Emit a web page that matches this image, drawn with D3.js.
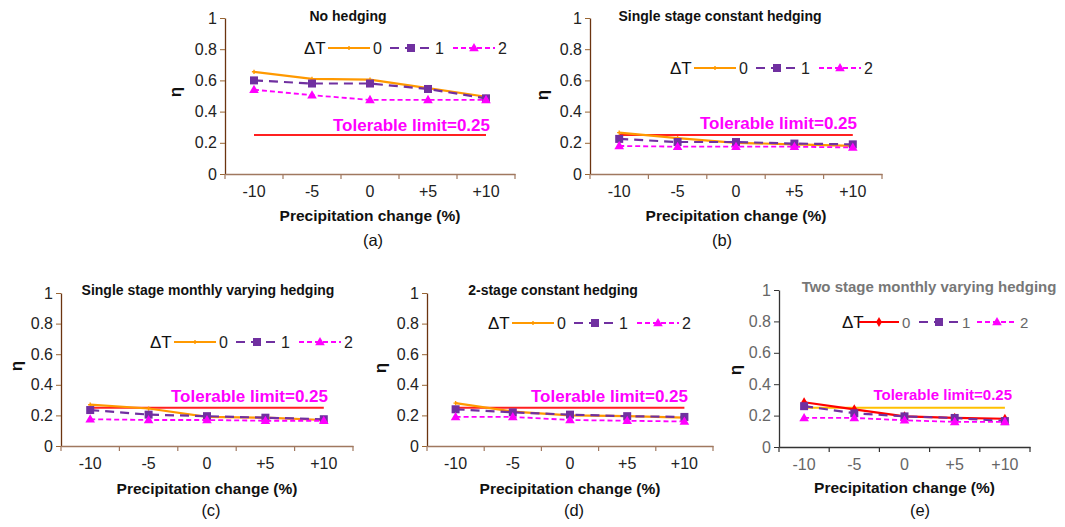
<!DOCTYPE html>
<html>
<head>
<meta charset="utf-8">
<script src="https://cdn.jsdelivr.net/npm/d3@7"></script>
<style>
  body { margin: 0; background: #fff; }
  svg { font-family: "Liberation Sans", Arial, sans-serif; }
</style>
</head>
<body>
<svg id="chart" width="1065" height="527"></svg>
<script>
// precipitation change categories (x) and temperature change series
const categories = ["-10", "-5", "0", "+5", "+10"];
const deltaT = ["0", "1", "2"];
const yTicks = [0, 0.2, 0.4, 0.6, 0.8, 1];
const tolerableLimit = 0.25;

const titles = [
    "No hedging",
    "Single stage constant hedging",
    "Single stage monthly varying hedging",
    "2-stage constant hedging",
    "Two stage monthly varying hedging"
];
const subLabels = ["(a)", "(b)", "(c)", "(d)", "(e)"];

// eta values, one row per ΔT (0, 1, 2)
const noHedging = [
    [0.655, 0.61, 0.605, 0.55, 0.495],
    [0.60, 0.58, 0.58, 0.545, 0.485],
    [0.54, 0.505, 0.475, 0.475, 0.475]
];
const singleConstant = [
    [0.265, 0.23, 0.20, 0.19, 0.18],
    [0.225, 0.205, 0.205, 0.195, 0.19],
    [0.18, 0.175, 0.175, 0.175, 0.17]
];
const singleMonthly = [
    [0.27, 0.245, 0.19, 0.185, 0.17],
    [0.235, 0.205, 0.195, 0.185, 0.175],
    [0.175, 0.17, 0.17, 0.165, 0.165]
];
const twoStageConstant = [
    [0.28, 0.225, 0.20, 0.195, 0.185],
    [0.24, 0.22, 0.205, 0.195, 0.19],
    [0.19, 0.19, 0.17, 0.165, 0.16]
];
const twoStageMonthly = [
    [0.285, 0.24, 0.195, 0.185, 0.18],
    [0.26, 0.215, 0.195, 0.185, 0.165],
    [0.185, 0.185, 0.17, 0.16, 0.16]
];
const panelData = [noHedging, singleConstant, singleMonthly, twoStageConstant, twoStageMonthly];

// layout of each small chart (plot box, legend, labels)
const panels = [
    { l: 225, r: 515, t: 18, b: 174, titleX: 348, titleY: 21, legX: 304, legY: 48, limX: 490, limY: 131,
      etaX: 175, etaY: 92, xTitleY: 221, subX: 373, subY: 246 },
    { l: 590, r: 882, t: 18, b: 174, titleX: 720, titleY: 21, legX: 670, legY: 68, limX: 857, limY: 129,
      etaX: 542, etaY: 95, xTitleY: 221, subX: 722, subY: 246 },
    { l: 61, r: 353, t: 293, b: 446, titleX: 208, titleY: 295, legX: 150, legY: 342, limX: 328, limY: 402,
      etaX: 16, etaY: 366, xTitleY: 494, subX: 211, subY: 516 },
    { l: 427, r: 713, t: 293, b: 446, titleX: 553, titleY: 295, legX: 488, legY: 323, limX: 688, limY: 402,
      etaX: 380, etaY: 368, xTitleY: 494, subX: 574, subY: 516 },
    { l: 779, r: 1030, t: 290, b: 447, titleX: 929, titleY: 292, legX: 842, legY: 322, limX: 1012, limY: 400,
      etaX: 735, etaY: 370, xTitleY: 493, subX: 920, subY: 516, grey: true }
];

const seriesStyle = [
    { color: "#FF9900", width: 2.2, dash: null, marker: "tick" },
    { color: "#7030A0", width: 2.2, dash: "9,6", marker: "square" },
    { color: "#FF00FF", width: 1.8, dash: "5,3", marker: "triangle" }
];

const svg = d3.select("#chart");

function drawMarker(g, type, x, y, color) {
    if (type === "square") {
        g.append("rect").attr("x", x - 4).attr("y", y - 4).attr("width", 8).attr("height", 8).attr("fill", color);
    } else if (type === "triangle") {
        g.append("path").attr("d", d3.symbol().type(d3.symbolTriangle).size(40)())
            .attr("transform", "translate(" + x + "," + (y + 0.5) + ")").attr("fill", color);
    } else if (type === "diamond") {
        g.append("path").attr("d", d3.symbol().type(d3.symbolDiamond).size(30)())
            .attr("transform", "translate(" + x + "," + y + ")").attr("fill", color);
    } else {
        g.append("path").attr("d", d3.symbol().type(d3.symbolCross).size(10)())
            .attr("transform", "translate(" + x + "," + y + ")").attr("fill", color);
    }
}

panels.forEach(function (p, i) {
    let g = svg.append("g");
    let grey = !!p.grey;
    let yAxisColor = grey ? "#333" : "#6B3410";
    let xAxisColor = grey ? "#333" : "#A0785F";
    let tickTextColor = grey ? "#666" : "#222";

    let x = d3.scaleBand().domain(categories).range([p.l, p.r]);
    let y = d3.scaleLinear().domain([0, 1]).range([p.b, p.t]);

    // y axis
    let ya = g.append("g").attr("transform", "translate(" + p.l + ",0)")
        .call(d3.axisLeft(y).tickValues(yTicks).tickSize(5).tickSizeOuter(0).tickPadding(3)
            .tickFormat(d3.format("")));
    ya.select(".domain").attr("stroke", yAxisColor).attr("stroke-width", 1.3);
    ya.selectAll(".tick line").attr("stroke", grey ? "#333" : "#996633");
    ya.selectAll(".tick text").attr("fill", tickTextColor).style("font-size", "16px");

    // x axis: labels at category centres, ticks at boundaries
    let xa = g.append("g").attr("transform", "translate(0," + p.b + ")")
        .call(d3.axisBottom(x).tickSize(0).tickSizeOuter(0).tickPadding(12));
    xa.select(".domain").attr("stroke", xAxisColor).attr("stroke-width", 1.5);
    xa.selectAll(".tick text").attr("fill", tickTextColor).style("font-size", "16px");
    d3.range(categories.length + 1).forEach(function (k) {
        let bx = p.l + k * x.step();
        g.append("line").attr("x1", bx).attr("x2", bx).attr("y1", p.b).attr("y2", p.b + 5)
            .attr("stroke", xAxisColor).attr("stroke-width", 1.2);
    });

    // tolerable limit line
    g.append("line")
        .attr("x1", x(categories[0]) + x.bandwidth() / 2)
        .attr("x2", x(categories[categories.length - 1]) + x.bandwidth() / 2)
        .attr("y1", y(tolerableLimit)).attr("y2", y(tolerableLimit))
        .attr("stroke", grey ? "#FFC000" : "#FF2020").attr("stroke-width", 1.8);
    g.append("text").attr("x", p.limX).attr("y", p.limY).attr("text-anchor", "end")
        .attr("fill", "#FF00FF").style("font-weight", "bold").style("font-size", grey ? "15px" : "17px")
        .text("Tolerable limit=" + tolerableLimit);

    // series
    panelData[i].forEach(function (vals, s) {
        let st = seriesStyle[s];
        let color = (grey && s === 0) ? "#FF0000" : st.color;
        let marker = (grey && s === 0) ? "diamond" : st.marker;
        let line = d3.line()
            .x(function (d, k) { return x(categories[k]) + x.bandwidth() / 2; })
            .y(function (d) { return y(d); });
        g.append("path").datum(vals).attr("d", line).attr("fill", "none")
            .attr("stroke", color).attr("stroke-width", st.width)
            .attr("stroke-dasharray", st.dash);
        vals.forEach(function (v, k) {
            drawMarker(g, marker, x(categories[k]) + x.bandwidth() / 2, y(v), color);
        });
    });

    // legend
    let lg = g.append("g").attr("transform", "translate(" + p.legX + "," + p.legY + ")");
    lg.append("text").attr("x", 0).attr("y", 6).style("font-size", "17px")
        .attr("fill", "#111").text("\u0394T");
    let starts = grey ? [17, 77, 135] : [24, 86, 149];
    deltaT.forEach(function (lab, s) {
        let st = seriesStyle[s];
        let color = (grey && s === 0) ? "#FF0000" : st.color;
        let marker = (grey && s === 0) ? "diamond" : st.marker;
        let x0 = starts[s], len = grey ? 40 : 42;
        lg.append("line").attr("x1", x0).attr("x2", x0 + len).attr("y1", 0).attr("y2", 0)
            .attr("stroke", color).attr("stroke-width", st.width).attr("stroke-dasharray", st.dash);
        drawMarker(lg, marker, x0 + len / 2, 0, color);
        lg.append("text").attr("x", x0 + len + 3).attr("y", 6).style("font-size", grey ? "15px" : "16px")
            .attr("fill", grey ? "#666" : "#222").text(lab);
    });

    // titles and labels
    g.append("text").attr("x", p.titleX).attr("y", p.titleY).attr("text-anchor", "middle")
        .style("font-weight", "bold").style("font-size", grey ? "15px" : "14px")
        .attr("fill", grey ? "#777" : "#111").text(titles[i]);
    g.append("text").attr("transform", "translate(" + p.etaX + "," + p.etaY + ") rotate(-90)")
        .attr("text-anchor", "middle").attr("dy", "0.35em")
        .style("font-weight", "bold").style("font-size", "17px").attr("fill", "#111").text("\u03B7");
    g.append("text").attr("x", (p.l + p.r) / 2).attr("y", p.xTitleY).attr("text-anchor", "middle")
        .style("font-weight", "bold").style("font-size", "15.5px").attr("fill", "#111")
        .text("Precipitation change (%)");
    g.append("text").attr("x", p.subX).attr("y", p.subY).attr("text-anchor", "middle")
        .style("font-size", "16.5px").attr("fill", "#111").text(subLabels[i]);
});
</script>
</body>
</html>
